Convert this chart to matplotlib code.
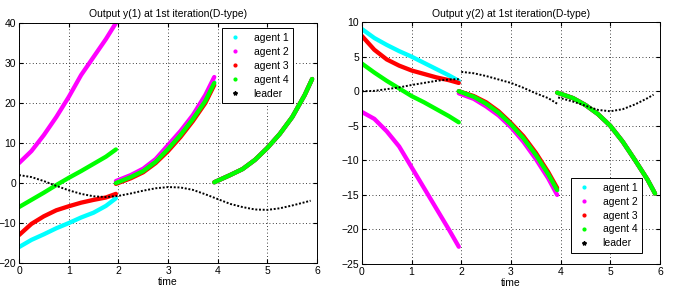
"""Output y(1), y(2) at 1st iteration (D-type) – two panels."""

import matplotlib
matplotlib.use("Agg")
import matplotlib.pyplot as plt
from matplotlib.lines import Line2D

plt.rcParams["font.family"] = ["Liberation Sans", "DejaVu Sans"]

# ── Data ──────────────────────────────────────────────────────────────────
t_seg1 = [0, 0.25, 0.5, 0.75, 1.0, 1.25, 1.5, 1.75, 1.95]
t_seg2 = [1.95, 2.25, 2.5, 2.75, 3.0, 3.25, 3.5, 3.75, 3.93]
t_seg3 = [3.93, 4.25, 4.5, 4.75, 5.0, 5.25, 5.5, 5.75, 5.9]

# y(1)
y1_agent1 = [[-16, -14.2, -12.8, -11.3, -10, -8.6, -7.4, -5.7, -3.8],
             [0, 1.5, 3.1, 5.4, 8.7, 12.2, 16.2, 20.8, 25.2],
             [0.2, 2, 3.5, 5.8, 8.8, 12.3, 16.5, 22, 26]]
y1_agent2 = [[5, 8, 12, 16.5, 21.5, 27, 31.5, 36, 40],
             [0.5, 2, 3.6, 6, 9.5, 13, 17, 22, 26.5],
             [0.2, 2, 3.5, 5.8, 8.8, 12.3, 16.5, 22, 26]]
y1_agent3 = [[-13, -10.2, -8.3, -6.8, -5.8, -4.9, -4.2, -3.6, -2.7],
             [-0.2, 1.2, 2.7, 5, 8, 11.5, 15.5, 20, 24.5],
             [0.2, 2, 3.5, 5.8, 8.8, 12.3, 16.5, 22, 26]]
y1_agent4 = [[-6, -4.2, -2.4, -0.5, 1.3, 3, 4.8, 6.6, 8.4],
             [0, 1.5, 3, 5.3, 8.5, 12, 16, 20.5, 25],
             [0.2, 2, 3.5, 5.8, 8.8, 12.3, 16.5, 22, 26]]
t_leader1 = [0, 0.25, 0.5, 0.75, 1.0, 1.25, 1.5, 1.75, 2.0, 2.25, 2.5, 2.75,
             3.0, 3.25, 3.5, 3.75, 4.0, 4.25, 4.5, 4.75, 5.0, 5.25, 5.5, 5.75, 5.87]
y1_leader = [2, 1.5, 0.5, -0.7, -1.8, -2.7, -3.3, -3.5, -3.2, -2.6, -1.9, -1.3,
             -1.0, -1.1, -1.7, -2.8, -4.0, -5.2, -6.0, -6.6, -6.7, -6.3, -5.6, -4.8, -4.4]

# y(2)
y2_agent1 = [[9, 7.7, 6.7, 5.8, 5.0, 4.1, 3.2, 2.3, 1.5],
             [0, -0.8, -1.8, -3.1, -4.8, -6.8, -9.2, -12, -14.3],
             [-0.2, -1, -2, -3.3, -5, -7.3, -10, -12.8, -14.8]]
y2_agent2 = [[-3, -4, -5.8, -8, -11, -14, -17, -20, -22.5],
             [-0.3, -1.1, -2.2, -3.5, -5.2, -7.3, -9.8, -12.6, -15],
             [-0.2, -1, -2, -3.3, -5, -7.3, -10, -12.8, -14.8]]
y2_agent3 = [[8, 6, 4.6, 3.7, 3.0, 2.5, 2.0, 1.6, 1.2],
             [0, -0.7, -1.6, -2.9, -4.6, -6.5, -8.9, -11.7, -14],
             [-0.2, -1, -2, -3.3, -5, -7.3, -10, -12.8, -14.8]]
y2_agent4 = [[4, 2.7, 1.5, 0.4, -0.7, -1.6, -2.6, -3.6, -4.5],
             [0, -0.8, -1.8, -3.1, -4.8, -6.8, -9.2, -12, -14.3],
             [-0.2, -1, -2, -3.3, -5, -7.3, -10, -12.8, -14.8]]
t_leader2 = [[0, 0.25, 0.5, 0.75, 1.0, 1.25, 1.5, 1.75, 1.95],
             [2.0, 2.25, 2.5, 2.75, 3.0, 3.25, 3.5, 3.75, 3.93],
             [3.95, 4.25, 4.5, 4.75, 5.0, 5.25, 5.5, 5.75, 5.87]]
y2_leader = [[0, 0.05, 0.3, 0.55, 0.9, 1.2, 1.5, 1.7, 1.75],
             [2.8, 2.6, 2.2, 1.7, 1.2, 0.5, -0.3, -1.0, -1.8],
             [-0.9, -1.5, -2.1, -2.7, -2.9, -2.6, -1.9, -1.0, -0.5]]

AGENT_COLORS = ["#00ffff", "#ff00ff", "#ff0000", "#00ff00"]
LABELS = ["agent 1", "agent 2", "agent 3", "agent 4", "leader"]
SEGMENTS = [t_seg1, t_seg2, t_seg3]


def _style(ax, ylim, yticks, title):
    ax.set_xlim(0, 6)
    ax.set_ylim(*ylim)
    ax.set_xticks(range(7))
    ax.set_yticks(yticks)
    ax.tick_params(direction="in", labelsize=7.5, length=3, pad=2,
                   top=True, right=True)
    ax.grid(True, color="black", linestyle=(0, (1, 3)), linewidth=0.6)
    ax.set_xlabel("time", fontsize=7.5, labelpad=1)
    ax.set_title(title, fontsize=7.5, pad=4)
    for spine in ax.spines.values():
        spine.set_linewidth(0.7)


def _draw(ax, agents, t_leader, y_leader):
    for color, agent in zip(AGENT_COLORS, agents):
        for ts, ys in zip(SEGMENTS, agent):
            ax.plot(ts, ys, color=color, linewidth=3.1, solid_capstyle="round")
    for ts, ys in zip(t_leader, y_leader):
        ax.plot(ts, ys, color="black", linewidth=1.4, linestyle=(0, (1, 0.9)))


def _legend(ax, loc, anchor):
    handles = [Line2D([], [], color=c, marker=".", linestyle="none", markersize=4)
               for c in AGENT_COLORS]
    handles.append(Line2D([], [], color="black", marker="*", linestyle="none",
                          markersize=3))
    leg = ax.legend(handles, LABELS, loc=loc, bbox_to_anchor=anchor,
                    borderaxespad=0, fontsize=7.5, fancybox=False,
                    edgecolor="black", handletextpad=1.0, borderpad=0.45,
                    labelspacing=0.38, handlelength=1.6, framealpha=1)
    leg.get_frame().set_linewidth(0.7)


fig = plt.figure(figsize=(6.79, 3.07), dpi=100)
ax1 = fig.add_axes([0.028, 0.143, 0.439, 0.782])
ax2 = fig.add_axes([0.533, 0.140, 0.439, 0.788])

_draw(ax1, [y1_agent1, y1_agent2, y1_agent3, y1_agent4], [t_leader1], [y1_leader])
_style(ax1, (-20, 40), range(-20, 41, 10), "Output y(1) at 1st iteration(D-type)")
_legend(ax1, "upper right", (0.919, 0.979))

_draw(ax2, [y2_agent1, y2_agent2, y2_agent3, y2_agent4], t_leader2, y2_leader)
_style(ax2, (-25, 10), range(-25, 11, 5), "Output y(2) at 1st iteration(D-type)")
_legend(ax2, "lower right", (0.94, 0.045))

fig.savefig("out.png", dpi=100, facecolor="white")
